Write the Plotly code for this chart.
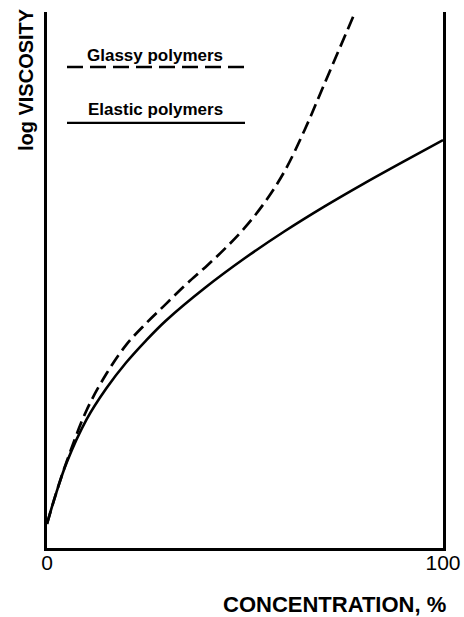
import plotly.graph_objects as go

# Concentration (%) and relative log viscosity for the two polymer classes
elastic_conc = [0, 2, 5, 10, 15, 20, 25, 30, 40, 50, 60, 70, 80, 90, 100]
elastic_logv = [4.5, 9.5, 16.0, 24.0, 29.8, 34.6, 38.7, 42.4, 48.6, 54.1, 59.1, 63.7, 68.0, 72.1, 76.1]

glassy_conc = [0, 2, 5, 10, 15, 20, 25, 30, 35, 40, 45, 50, 55, 60, 65, 70, 77.3]
glassy_logv = [4.5, 9.5, 16.2, 25.7, 32.5, 37.9, 41.9, 45.5, 49.1, 52.4, 55.9, 59.8, 64.5, 70.3, 77.9, 86.5, 99.1]

x_ticks = [0, 100]
x_tick_labels = ["0", "100"]

FONT = "Arial, Liberation Sans, sans-serif"

fig = go.Figure()

fig.add_trace(go.Scatter(
    x=glassy_conc, y=glassy_logv, mode="lines",
    line=dict(color="black", width=2.7, dash="13px,6px", shape="spline", smoothing=1.0),
    name="Glassy polymers", showlegend=False,
))
fig.add_trace(go.Scatter(
    x=elastic_conc, y=elastic_logv, mode="lines",
    line=dict(color="black", width=2.6, shape="spline", smoothing=1.0),
    name="Elastic polymers", showlegend=False,
))
# invisible trace that carries the right-hand frame line
fig.add_trace(go.Scatter(x=[0], y=[0], yaxis="y2", mode="markers",
                         marker=dict(opacity=0), showlegend=False, hoverinfo="skip"))

fig.update_layout(
    width=464, height=617,
    margin=dict(l=47, r=21, t=12, b=69, autoexpand=False),
    paper_bgcolor="white", plot_bgcolor="white",
    font=dict(family=FONT, color="black"),
    xaxis=dict(range=[0, 100], showline=True, linecolor="black", linewidth=2.5,
               showgrid=False, zeroline=False, tickvals=x_ticks, ticktext=x_tick_labels,
               ticks="", ticklen=0, automargin=False,
               tickfont=dict(size=21, family=FONT), ticklabelstandoff=-6),
    yaxis=dict(range=[0, 100], showline=True, linecolor="black", linewidth=2.5,
               showgrid=False, zeroline=False, showticklabels=False, ticks="",
               automargin=False),
    yaxis2=dict(range=[0, 100], overlaying="y", side="right", showline=True,
                linecolor="black", linewidth=2.5, showgrid=False, zeroline=False,
                showticklabels=False, ticks="", automargin=False),
)

# Legend drawn as captions above sample lines
fig.add_annotation(x=0.273, y=0.918, xref="paper", yref="paper", text="<b>Glassy polymers</b>",
                   xanchor="center", yanchor="middle",
                   showarrow=False, font=dict(size=17, family=FONT))
fig.add_shape(type="line", xref="paper", yref="paper", x0=0.0505, x1=0.5, y0=0.8975, y1=0.8975,
              line=dict(color="black", width=2.5, dash="16px,7px"))
fig.add_annotation(x=0.273, y=0.819, xref="paper", yref="paper", text="<b>Elastic polymers</b>",
                   xanchor="center", yanchor="middle",
                   showarrow=False, font=dict(size=17, family=FONT))
fig.add_shape(type="line", xref="paper", yref="paper", x0=0.0505, x1=0.5, y0=0.793, y1=0.793,
              line=dict(color="black", width=2.2))

# Axis titles
fig.add_annotation(x=-0.053, y=0.873, xref="paper", yref="paper", text="<b>log VISCOSITY</b>",
                   xanchor="center", yanchor="middle",
                   textangle=-90, showarrow=False, font=dict(size=20, family=FONT))
fig.add_annotation(x=0.727, y=-0.106, xref="paper", yref="paper", text="<b>CONCENTRATION, %</b>",
                   xanchor="center", yanchor="middle",
                   showarrow=False, font=dict(size=22, family=FONT))

fig.write_html("out.html")
